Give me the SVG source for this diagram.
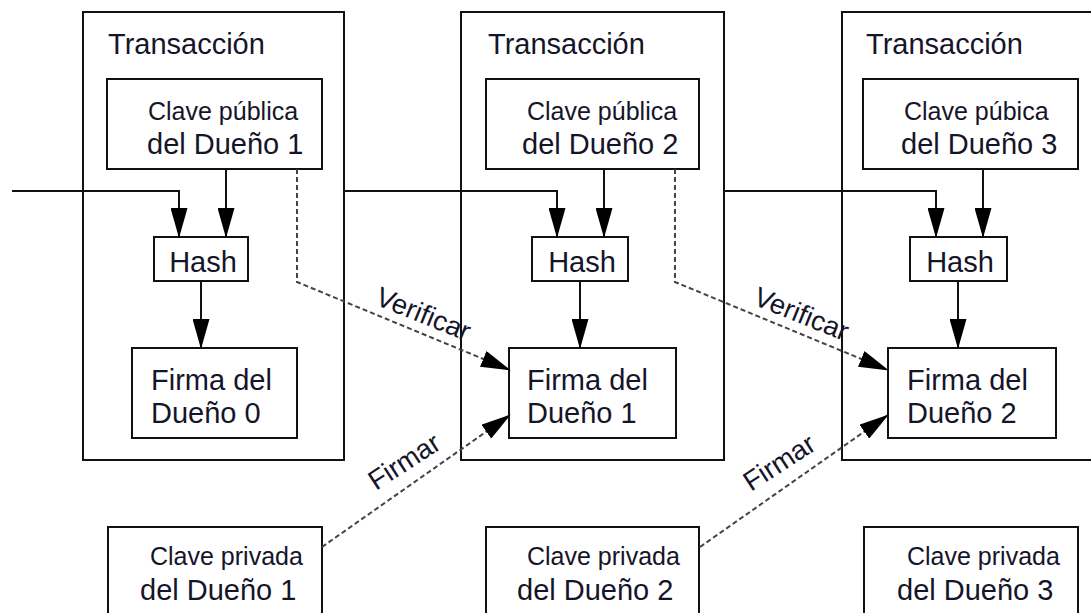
<svg xmlns="http://www.w3.org/2000/svg" width="1091" height="613" viewBox="0 0 1091 613">
<style>
  .box{fill:none;stroke:#111;stroke-width:2}
  .t{font-family:"Liberation Sans",Arial,sans-serif;fill:#15152a}
  .big{font-size:29px}
  .sm{font-size:25px}
  .fir{font-size:29px}
  .lab{font-size:27.5px}
  .ln{fill:none;stroke:#111;stroke-width:2}
  .dash{fill:none;stroke:#444;stroke-width:2;stroke-dasharray:5,3}
</style>
<defs>
  <marker id="ah" viewBox="0 0 30 17" markerWidth="30" markerHeight="17" markerUnits="userSpaceOnUse" refX="29" refY="8.5" orient="auto">
    <path d="M0,0 L30,8.5 L0,17 z" fill="#000"/>
  </marker>
</defs>
<rect width="1091" height="613" fill="#fff"/>

<g id="tx1">
  <rect class="box" x="83" y="12" width="261" height="448"/>
  <text class="t big" x="108" y="54">Transacción</text>
</g>
<g id="tx2">
  <rect class="box" x="461" y="12" width="263" height="448"/>
  <text class="t big" x="488" y="54">Transacción</text>
</g>
<g id="tx3">
  <rect class="box" x="842" y="12" width="262" height="448"/>
  <text class="t big" x="866" y="54">Transacción</text>
</g>

<g id="pub1">
  <rect class="box" x="107" y="79" width="215" height="90"/>
  <text class="t sm" x="148" y="120">Clave pública</text>
  <text class="t big" x="147" y="154">del Dueño 1</text>
</g>
<g id="pub2">
  <rect class="box" x="486" y="79" width="213" height="90"/>
  <text class="t sm" x="527" y="120">Clave pública</text>
  <text class="t big" x="522" y="154">del Dueño 2</text>
</g>
<g id="pub3">
  <rect class="box" x="863" y="79" width="215" height="90"/>
  <text class="t sm" x="904" y="120">Clave púbica</text>
  <text class="t big" x="901" y="154">del Dueño 3</text>
</g>

<g id="hash1">
  <rect class="box" x="154" y="237" width="94" height="44"/>
  <text class="t big" x="203" y="272" text-anchor="middle">Hash</text>
</g>
<g id="hash2">
  <rect class="box" x="532" y="237" width="96" height="44"/>
  <text class="t big" x="582" y="272" text-anchor="middle">Hash</text>
</g>
<g id="hash3">
  <rect class="box" x="910" y="237" width="97" height="44"/>
  <text class="t big" x="960" y="272" text-anchor="middle">Hash</text>
</g>

<g id="firma0">
  <rect class="box" x="132" y="348" width="165" height="90"/>
  <text class="t fir" x="151" y="390">Firma del</text>
  <text class="t fir" x="151" y="423">Dueño 0</text>
</g>
<g id="firma1">
  <rect class="box" x="509" y="348" width="167" height="90"/>
  <text class="t fir" x="527" y="390">Firma del</text>
  <text class="t fir" x="527" y="423">Dueño 1</text>
</g>
<g id="firma2">
  <rect class="box" x="888" y="348" width="168" height="90"/>
  <text class="t fir" x="907" y="390">Firma del</text>
  <text class="t fir" x="907" y="423">Dueño 2</text>
</g>

<g id="priv1">
  <rect class="box" x="108" y="527" width="214" height="100"/>
  <text class="t sm" x="150" y="565">Clave privada</text>
  <text class="t big" x="140" y="600">del Dueño 1</text>
</g>
<g id="priv2">
  <rect class="box" x="486" y="527" width="213" height="100"/>
  <text class="t sm" x="527" y="565">Clave privada</text>
  <text class="t big" x="517" y="600">del Dueño 2</text>
</g>
<g id="priv3">
  <rect class="box" x="864" y="527" width="214" height="100"/>
  <text class="t sm" x="907" y="565">Clave privada</text>
  <text class="t big" x="897" y="600">del Dueño 3</text>
</g>

<g id="connectors">
  <path class="ln" d="M12,191 H179 V237" marker-end="url(#ah)"/>
  <path class="ln" d="M226,169 V237" marker-end="url(#ah)"/>
  <path class="ln" d="M201,281 V348" marker-end="url(#ah)"/>
  <path class="ln" d="M344,191 H557 V237" marker-end="url(#ah)"/>
  <path class="ln" d="M604,169 V237" marker-end="url(#ah)"/>
  <path class="ln" d="M580,281 V348" marker-end="url(#ah)"/>
  <path class="ln" d="M723,191 H936 V237" marker-end="url(#ah)"/>
  <path class="ln" d="M983,169 V237" marker-end="url(#ah)"/>
  <path class="ln" d="M958,281 V348" marker-end="url(#ah)"/>

  <path class="dash" d="M297,169 V282 L510,370" marker-end="url(#ah)"/>
  <path class="dash" d="M675,169 V282 L888,370" marker-end="url(#ah)"/>
  <path class="dash" d="M322,547 L510,415" marker-end="url(#ah)"/>
  <path class="dash" d="M700,547 L888,415" marker-end="url(#ah)"/>

  <text class="t lab" transform="translate(374,304) rotate(22)">Verificar</text>
  <text class="t lab" transform="translate(752,304) rotate(22)">Verificar</text>
  <text class="t lab" transform="translate(376,491) rotate(-33)">Firmar</text>
  <text class="t lab" transform="translate(751,492) rotate(-33)">Firmar</text>
</g>
</svg>
